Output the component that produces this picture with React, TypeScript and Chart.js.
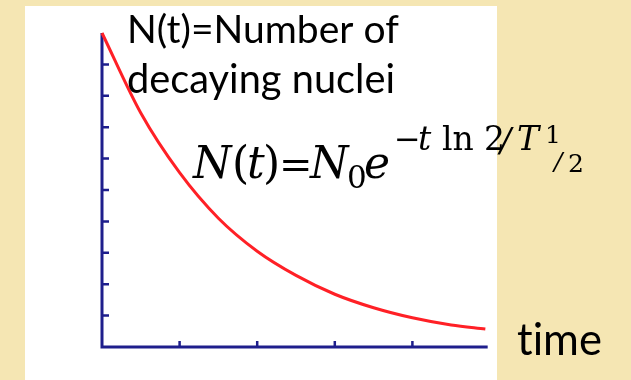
import React, { useEffect, useRef } from "react";
import { Chart, registerables } from "chart.js";

Chart.register(...registerables);

// Decay curve samples: time (in half-life units) and remaining nuclei
const timeValues = [0, 0.5, 1, 1.5, 2, 2.5, 3, 3.5, 4, 4.5, 4.94];
const nucleiValues = [10, 7.45, 5.55, 4.1, 3.05, 2.28, 1.68, 1.25, 0.93, 0.7, 0.57];

// Tick marks along the axes (no numeric labels are shown)
const yTickValues = [1, 2, 3, 4, 5, 6, 7, 8, 9];
const xTickValues = [1, 2, 3, 4];

const titleLines = ["N(t)=Number of", "decaying nuclei"];
const xAxisLabel = "time";

const PAGE_BG = "#F5E6B3";
const PANEL_BG = "#FFFFFF";
const AXIS_COLOR = "#1E1E8C";
const CURVE_COLOR = "#FF2026";
const SANS = "Lato, 'Open Sans', sans-serif";
const SERIF = "'DejaVu Serif', serif";

function fitSize(ctx: CanvasRenderingContext2D, text: string, family: string, width: number) {
  ctx.font = `100px ${family}`;
  const w = ctx.measureText(text).width;
  return (100 * width) / w;
}

const backgroundPlugin = {
  id: "pageBackground",
  beforeDraw(chart: Chart) {
    const { ctx, width, height } = chart;
    ctx.save();
    ctx.fillStyle = PAGE_BG;
    ctx.fillRect(0, 0, width, height);
    ctx.fillStyle = PANEL_BG;
    ctx.fillRect(25, 6, 472, height - 6);
    ctx.restore();
  },
};

const axesPlugin = {
  id: "inwardAxes",
  beforeDatasetsDraw(chart: Chart) {
    const { ctx } = chart;
    const xs = chart.scales.x;
    const ys = chart.scales.y;
    const x0 = xs.getPixelForValue(0);
    const xEnd = xs.getPixelForValue(4.97);
    const y0 = ys.getPixelForValue(0);
    const yTop = ys.getPixelForValue(10);
    ctx.save();
    ctx.strokeStyle = AXIS_COLOR;
    ctx.lineCap = "butt";
    ctx.lineWidth = 3;
    ctx.beginPath();
    ctx.moveTo(x0, yTop);
    ctx.lineTo(x0, y0);
    ctx.lineTo(xEnd, y0);
    ctx.stroke();
    ctx.lineWidth = 2.5;
    ctx.beginPath();
    for (const v of yTickValues) {
      const py = ys.getPixelForValue(v);
      ctx.moveTo(x0, py);
      ctx.lineTo(x0 + 7, py);
    }
    for (const v of xTickValues) {
      const px = xs.getPixelForValue(v);
      ctx.moveTo(px, y0);
      ctx.lineTo(px, y0 - 6);
    }
    ctx.stroke();
    ctx.restore();
  },
};

type Piece = { t: string; x: number; y: number; size: number; italic?: boolean };

const formulaPieces: Piece[] = [
  { t: "N", x: 193, y: 178, size: 44, italic: true },
  { t: "(", x: 232, y: 178, size: 44 },
  { t: "t", x: 247, y: 178, size: 44, italic: true },
  { t: ")", x: 263, y: 178, size: 44 },
  { t: "=", x: 279, y: 178, size: 40 },
  { t: "N", x: 310, y: 178, size: 44, italic: true },
  { t: "0", x: 347, y: 188, size: 31 },
  { t: "e", x: 364, y: 178, size: 44, italic: true },
  { t: "\u2212", x: 394, y: 150, size: 32 },
  { t: "t", x: 418, y: 150, size: 33, italic: true },
  { t: "ln", x: 442, y: 150, size: 33 },
  { t: "2", x: 484, y: 150, size: 33 },
  { t: "/", x: 500, y: 152, size: 33, italic: true },
  { t: "T", x: 517, y: 150, size: 33, italic: true },
  { t: "1", x: 545, y: 143, size: 25 },
  { t: "/", x: 554, y: 170, size: 25, italic: true },
  { t: "2", x: 568, y: 172, size: 25 },
];

const textPlugin = {
  id: "annotations",
  afterDraw(chart: Chart) {
    const { ctx } = chart;
    ctx.save();
    ctx.fillStyle = "#000000";
    ctx.textAlign = "left";
    ctx.textBaseline = "alphabetic";
    (ctx as any).letterSpacing = "0.01px";

    const s1 = fitSize(ctx, titleLines[0], SANS, 272);
    ctx.font = `${s1}px ${SANS}`;
    ctx.fillText(titleLines[0], 127, 43);
    const s2 = fitSize(ctx, titleLines[1], SANS, 268);
    ctx.font = `${s2}px ${SANS}`;
    ctx.fillText(titleLines[1], 127, 93);

    const s3 = fitSize(ctx, xAxisLabel, SANS, 85);
    ctx.font = `${s3}px ${SANS}`;
    ctx.fillText(xAxisLabel, 517, 355);

    (ctx as any).letterSpacing = "0px";
    for (const p of formulaPieces) {
      ctx.font = `${p.italic ? "italic " : ""}${p.size}px ${SERIF}`;
      ctx.fillText(p.t, p.x, p.y);
    }
    ctx.restore();
  },
};

export default function App() {
  const canvasRef = useRef<HTMLCanvasElement | null>(null);

  useEffect(() => {
    const canvas = canvasRef.current;
    if (!canvas) return;
    const chart = new Chart(canvas, {
      type: "line",
      data: {
        datasets: [
          {
            data: timeValues.map((t, i) => ({ x: t, y: nucleiValues[i] })),
            borderColor: CURVE_COLOR,
            borderWidth: 3,
            pointRadius: 0,
            cubicInterpolationMode: "monotone",
            fill: false,
            clip: false as any,
          },
        ],
      },
      options: {
        animation: false,
        responsive: false,
        devicePixelRatio: 1,
        layout: { padding: { left: 102, top: 33, right: 141, bottom: 33 } },
        plugins: { legend: { display: false }, tooltip: { enabled: false } },
        scales: {
          x: { type: "linear", min: 0, max: 5, display: false },
          y: { type: "linear", min: 0, max: 10, display: false },
        },
      },
      plugins: [backgroundPlugin, axesPlugin, textPlugin],
    });
    return () => chart.destroy();
  }, []);

  return (
    <div style={{ position: "fixed", left: 0, top: 0, width: 631, height: 380 }}>
      <canvas ref={canvasRef} width={631} height={380} style={{ width: 631, height: 380, display: "block" }} />
    </div>
  );
}
